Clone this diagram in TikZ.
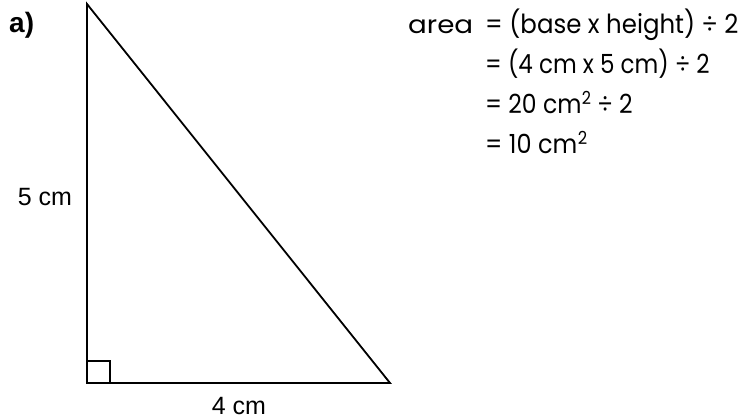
\documentclass[tikz,border=0pt]{standalone}
\usepackage{fontspec}
\setmainfont{Liberation Sans}
\newfontfamily\handfont{Poppins}
\newcommand{\supertwo}{\kern0.5pt\raisebox{8pt}{\fontsize{16}{16}\selectfont 2}}
\begin{document}
\begin{tikzpicture}[x=1pt,y=-1pt,
  edge/.style={line width=1.8pt, line join=miter, draw=black},
  lbl/.style={font=\fontsize{25}{28}\selectfont, inner sep=0pt},
  hand/.style={font=\handfont\fontsize{23.5}{26}\selectfont, inner sep=0pt, anchor=base west}]
\useasboundingbox (0,0) rectangle (745,418);
\coordinate (A) at (87,4);
\coordinate (B) at (87,383);
\coordinate (C) at (390,383);
\draw[edge] (A) -- (B) -- (C) -- cycle;
\draw[line width=1.4pt] ([yshift=22pt]B) -| ([xshift=23pt]B);
\node[lbl, anchor=base] (five) at (45,205) {5 cm};
\node[lbl, anchor=base] (four) at (239,414) {4 cm};
\node[font=\bfseries\fontsize{28}{30}\selectfont, inner sep=0pt, anchor=base west] (lab) at (9,32) {a)};
\node[hand] (area) at (408,33) {\scalebox{1.18}[1.05]{area}};
\node[hand] (l1) at (485,33) {\scalebox{1.04}[1.12]{= (base x height) ÷ 2}};
\node[hand] (l2) at (485,73) {\scalebox{0.98}[1.12]{= (4 cm x 5 cm) ÷ 2}};
\node[hand] (l3) at (485,113) {\scalebox{1}[1.12]{= 20 cm\supertwo{} ÷ 2}};
\node[hand] (l4) at (485,153) {\scalebox{1.02}[1.12]{= 10 cm\supertwo}};
\end{tikzpicture}
\end{document}
